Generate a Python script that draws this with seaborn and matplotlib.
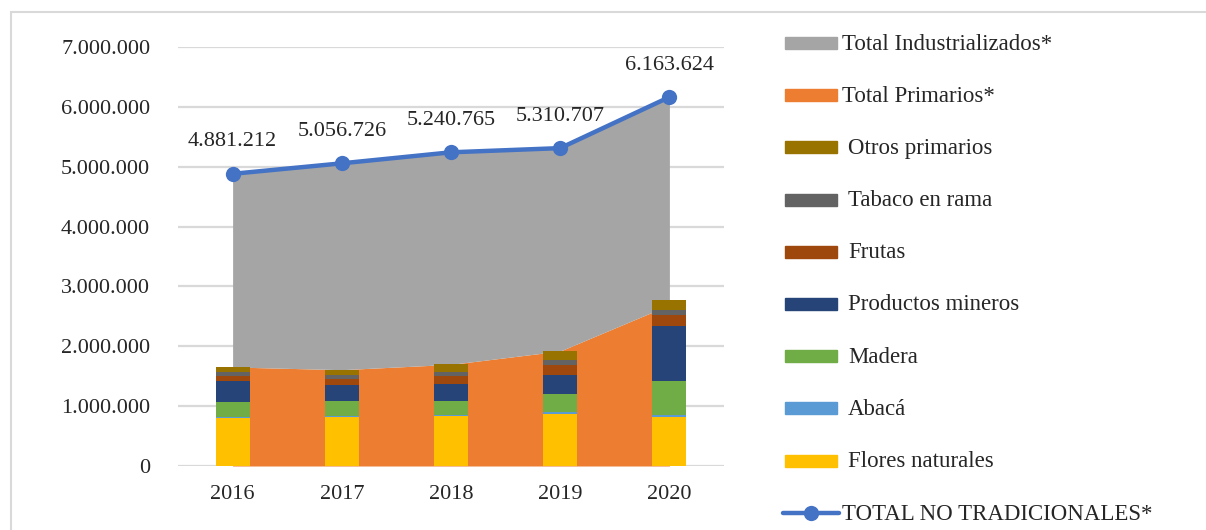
import numpy as np
import matplotlib
matplotlib.use('Agg')
import matplotlib.pyplot as plt
import seaborn as sns
from matplotlib.patches import Rectangle
from matplotlib.lines import Line2D

years = ['2016', '2017', '2018', '2019', '2020']

# stacked bar components
flores = [797000, 813000, 835000, 874000, 818000]
abaca = [22000, 22000, 17000, 23000, 34000]
madera = [250000, 245000, 239000, 306000, 573000]
mineros = [351000, 268000, 284000, 322000, 919000]
frutas = [90000, 111000, 128000, 168000, 184000]
tabaco = [60000, 61000, 72000, 78000, 73000]
otros = [84000, 89000, 123000, 150000, 167000]

total_primarios = [1654000, 1609000, 1698000, 1921000, 2690000]
total_no_trad = [4881212, 5056726, 5240765, 5310707, 6163624]
total_ind = [t - p for t, p in zip(total_no_trad, total_primarios)]

bar_series = [
    ('Flores naturales', flores, '#FFC000'),
    ('Abacá', abaca, '#5B9BD5'),
    ('Madera', madera, '#70AD47'),
    ('Productos mineros', mineros, '#264478'),
    ('Frutas', frutas, '#9E480E'),
    ('Tabaco en rama', tabaco, '#636363'),
    ('Otros primarios', otros, '#997300'),
]
c_ind = '#A5A5A5'
c_prim = '#ED7D31'
c_line = '#4472C4'

sns.set_style('white')
plt.rcParams['font.family'] = ['Liberation Serif', 'DejaVu Serif']
txt_color = '#262626'
fs = 16
fs_leg = 16.5

fig = plt.figure(figsize=(12.06, 5.3), dpi=100)
ax = fig.add_axes([178 / 1206, 64 / 530, 546 / 1206, 419 / 530])

x = np.arange(len(years))

# stacked area: primarios + industrializados
ax.fill_between(x, 0, total_primarios, color=c_prim, lw=0, zorder=1)
ax.fill_between(x, total_primarios, total_no_trad, color=c_ind, lw=0, zorder=1)

# stacked bars on top
bottom = np.zeros(len(years))
for name, vals, col in bar_series:
    ax.bar(x, vals, bottom=bottom, width=0.31, color=col, edgecolor='none', zorder=3)
    bottom += np.array(vals)

# total line
sns.lineplot(x=x, y=total_no_trad, ax=ax, color=c_line, lw=3.2, marker='o',
             markersize=11, markeredgewidth=0, zorder=5)
for xi, v in zip(x, total_no_trad):
    ax.annotate(f'{v:,}'.replace(',', '.'), (xi, v), xytext=(0, 23),
                textcoords='offset points', ha='center', va='center',
                fontsize=fs, color=txt_color)

ax.set_xlim(-0.5, 4.5)
ax.set_ylim(0, 7000000)
yt = np.arange(0, 7000001, 1000000)
ax.set_yticks(yt)
ax.set_yticklabels([f'{int(v):,}'.replace(',', '.') for v in yt])
ax.set_xticks(x)
ax.set_xticklabels(years)
ax.tick_params(axis='both', length=0, labelsize=fs, labelcolor=txt_color)
ax.tick_params(axis='y', pad=20)
ax.tick_params(axis='x', pad=14)
for v in yt:
    ax.axhline(v, color='#D9D9D9', lw=1.6, zorder=0)
for s in ax.spines.values():
    s.set_visible(False)

# legend drawn on the figure
legend_items = [
    ('Total Industrializados*', c_ind, 842),
    ('Total Primarios*', c_prim, 842),
    ('Otros primarios', '#997300', 848),
    ('Tabaco en rama', '#636363', 848),
    ('Frutas', '#9E480E', 848),
    ('Productos mineros', '#264478', 848),
    ('Madera', '#70AD47', 848),
    ('Abacá', '#5B9BD5', 848),
    ('Flores naturales', '#FFC000', 848),
]
W, H = 1206, 530
for i, (lab, col, tx) in enumerate(legend_items):
    yc = 43 + i * 52.2
    fig.patches.append(Rectangle((785 / W, 1 - (yc + 6) / H), 52 / W, 12 / H,
                                 transform=fig.transFigure, color=col))
    fig.text(tx / W, 1 - (yc + 1) / H, lab, fontsize=fs_leg, color=txt_color,
             va='center', ha='left')
yc = 513
fig.lines.append(Line2D([783 / W, 839 / W], [1 - yc / H, 1 - yc / H], transform=fig.transFigure,
                        color=c_line, lw=3.2, solid_capstyle='round'))
fig.lines.append(Line2D([811 / W], [1 - yc / H], transform=fig.transFigure,
                        color=c_line, marker='o', markersize=11, markeredgewidth=0))
fig.text(842 / W, 1 - (yc + 1) / H, 'TOTAL NO TRADICIONALES*', fontsize=fs_leg, color=txt_color,
         va='center', ha='left')

# outer chart border
fig.patches.append(Rectangle((11 / W, -0.1), 1.2, 1.1 - 12 / H, transform=fig.transFigure,
                             fill=False, edgecolor='#D9D9D9', lw=1.5))

fig.savefig('out.png', dpi=100)
